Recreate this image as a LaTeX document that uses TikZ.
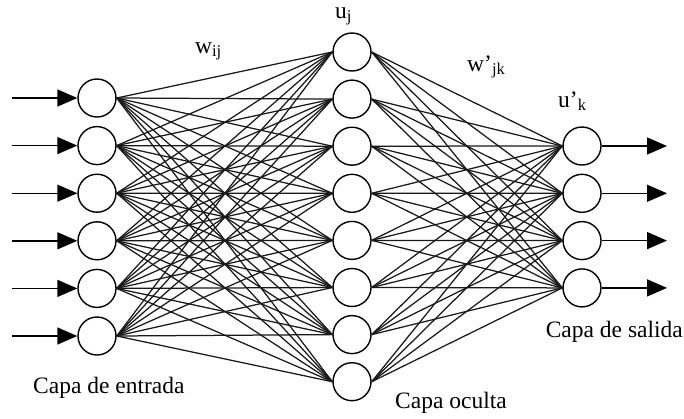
\documentclass[tikz,border=0pt]{standalone}
\usepackage{fontspec}
\setmainfont{Liberation Serif}
\usetikzlibrary{arrows.meta}
\begin{document}
\begin{tikzpicture}[x=1pt,y=-1pt,
  neuron/.style={circle,draw,line width=1.4pt,fill=white,minimum size=38pt,inner sep=0pt},
  link/.style={line width=1.25pt,draw=black!90},
  signal/.style={line width=1.4pt,-{Triangle[length=20pt,width=17pt]}},
  lbl/.style={inner sep=0pt,font=\fontsize{23.5}{27}\selectfont}]
  \useasboundingbox[fill=white] (0,0) rectangle (684,418);

  % input layer
  \foreach \i in {1,...,6}
    \node[neuron] (in\i) at (97,{98+47.6*(\i-1)}) {};
  % hidden layer
  \foreach \j in {1,...,8}
    \node[neuron] (h\j) at (352,{52+47.1*(\j-1)}) {};
  % output layer
  \foreach \k in {1,...,4}
    \node[neuron] (out\k) at (582,{146+47.3*(\k-1)}) {};

  % connections between layers
  \foreach \i in {1,...,6}
    \foreach \j in {1,...,8}
      \draw[link] (in\i.east) -- (h\j.west);
  \foreach \j in {1,...,8}
    \foreach \k in {1,...,4}
      \draw[link] (h\j.east) -- (out\k.west);

  % incoming signals
  \foreach \i in {1,...,6} {
    \coordinate (src\i) at (12,{98+47.6*(\i-1)});
    \draw[signal] (src\i) -- (in\i.west);
  }
  % outgoing signals
  \foreach \k in {1,...,4} {
    \coordinate (dst\k) at (667,{146+47.3*(\k-1)});
    \draw[signal] (out\k.east) -- (dst\k);
  }

  % labels
  \node[lbl,anchor=base west] (wij) at (195,53) {w\textsubscript{ij}};
  \node[lbl,anchor=base west] (uj) at (335,18) {u\textsubscript{j}};
  \node[lbl,anchor=base west] (wjk) at (467,71) {w’\textsubscript{jk}};
  \node[lbl,anchor=base west] (uk) at (558,107) {u’\textsubscript{k}};
  \node[lbl,anchor=base west] (lin) at (33,393) {Capa de entrada};
  \node[lbl,anchor=base west] (lhid) at (395,408) {Capa oculta};
  \node[lbl,anchor=base east] (lout) at (683,337) {Capa de salida};
\end{tikzpicture}
\end{document}
